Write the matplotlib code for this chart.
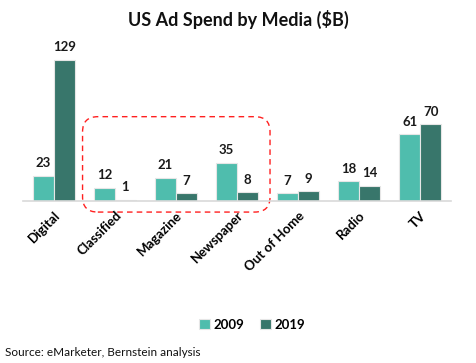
import matplotlib
matplotlib.use("Agg")
import matplotlib.pyplot as plt
import numpy as np
from matplotlib.patches import FancyBboxPatch

categories = ["Digital", "Classified", "Magazine", "Newspaper", "Out of Home", "Radio", "TV"]
spend_2009 = [23, 12, 21, 35, 7, 18, 61]
spend_2019 = [129, 1, 7, 8, 9, 14, 70]

c2009 = "#4fbdad"
c2019 = "#38766b"

plt.rcParams['font.family'] = ['Lato', 'DejaVu Sans']

fig = plt.figure(figsize=(4.76, 3.63), dpi=100)
ax = fig.add_axes([0.049, 0.446, 0.898, 0.444])

x = np.arange(len(categories))
w = 0.345
b1 = ax.bar(x - w / 2, spend_2009, w, color=c2009, edgecolor="#e6e6e6", linewidth=0.8, label="2009")
b2 = ax.bar(x + w / 2, spend_2019, w, color=c2019, edgecolor="#e6e6e6", linewidth=0.8, label="2019")

for bars in (b1, b2):
    for r in bars:
        ax.text(r.get_x() + r.get_width() / 2, r.get_height() + 6, f"{r.get_height():.0f}",
                ha="center", va="bottom", fontsize=9.5, fontweight="bold", color="#1a1a1a")

ax.set_xlim(-0.5, 6.5)
ax.set_ylim(0, 147)
ax.set_yticks([])
ax.set_xticks(x)
ax.set_xticklabels(categories, rotation=45, ha="right", rotation_mode="anchor",
                   fontsize=9.5, fontweight="bold")
ax.tick_params(axis="x", length=0, pad=6)
for s in ["top", "right", "left"]:
    ax.spines[s].set_visible(False)
ax.spines["bottom"].set_color("#d9d9d9")
ax.spines["bottom"].set_linewidth(1.2)

# red dashed highlight box
box = FancyBboxPatch((0.47, -10), 3.07, 87, boxstyle="round,pad=0,rounding_size=0.25",
                     mutation_aspect=55, fill=False, edgecolor="#ff2020",
                     linestyle=(0, (4, 3)), linewidth=1.0, clip_on=False)
ax.add_patch(box)

fig.text(0.5, 0.945, "US Ad Spend by Media ($B)", ha="center", va="center",
         fontsize=13, fontweight="bold", color="#111111")

fig.legend(handles=[b1, b2], labels=["2009", "2019"], loc="center",
           bbox_to_anchor=(0.53, 0.105), ncol=2, frameon=False,
           prop={"weight": "bold", "size": 9.5}, handlelength=0.8, handleheight=0.8,
           columnspacing=1.2, handletextpad=0.3)

fig.text(0.01, 0.03, "Source: eMarketer, Bernstein analysis", ha="left", va="center",
         fontsize=8.5, color="#111111")

fig.savefig("out.png", dpi=100)
